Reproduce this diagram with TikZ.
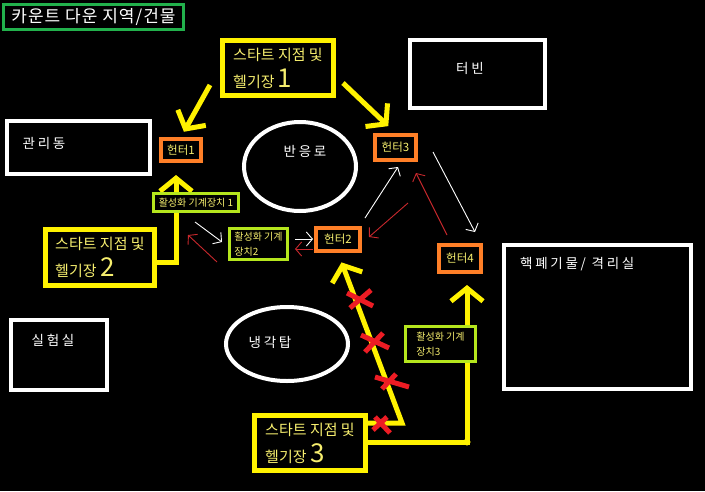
\documentclass[tikz,border=0pt]{standalone}
\usepackage{fontspec}
\setmainfont{Noto Sans CJK KR}
\newfontfamily\krlabel[LetterSpace=20]{Noto Sans CJK KR}
\newfontfamily\krtitle[LetterSpace=6]{Noto Sans CJK KR}
\usetikzlibrary{arrows.meta,shapes.geometric}
\definecolor{pyellow}{HTML}{FFF200}
\definecolor{pytext}{HTML}{F6EE6E}
\definecolor{porange}{HTML}{FF7F27}
\definecolor{plime}{HTML}{B5E61D}
\definecolor{pgreen}{HTML}{22B14C}
\definecolor{pred}{HTML}{ED1C24}
\definecolor{tred}{HTML}{C8282D}
\newcommand\bigdigit[1]{{\fontsize{26}{26}\selectfont #1}}
\pgfdeclarelayer{bg}
\pgfsetlayers{bg,main}
\begin{document}
\begin{tikzpicture}[x=1pt,y=-1pt,
  startbox/.style={draw=pyellow, fill=black, line width=5pt, text=pytext, inner sep=0pt, align=left, font=\fontsize{15}{27}\selectfont},
  hunter/.style={draw=porange, fill=black, line width=4pt, text=pytext, inner sep=0pt, font=\fontsize{11.5}{12}\selectfont},
  devbox/.style={draw=plime, fill=black, line width=3.5pt, text=pytext, inner sep=0pt, align=left, font=\fontsize{10}{15}\selectfont},
  bldg/.style={draw=white, fill=black, line width=4pt, inner sep=0pt},
  bldglabel/.style={text=white, inner sep=0pt, font=\krlabel\fontsize{13.5}{15}\selectfont},
  yarrow/.style={pyellow, line width=5pt, -{Straight Barb[length=13pt,width=32pt]}},
  thinw/.style={white, line width=0.9pt, -{Straight Barb[length=6pt,width=14pt]}},
  thinr/.style={tred, line width=0.9pt, -{Straight Barb[length=6pt,width=14pt]}},
  xmark/.style={pred, line width=5pt}
]
\begin{pgfonlayer}{bg}
\fill[black] (0,0) rectangle (705,491);
\end{pgfonlayer}
\useasboundingbox (0,0) rectangle (705,491);

% title
\node[draw=pgreen, line width=3pt, fill=black, text=white, inner sep=0pt,
      minimum width=180, minimum height=25, font=\krtitle\fontsize{17}{20}\selectfont] (title) at (93.5,17) {카운트 다운 지역/건물};

% buildings
\node[bldg, minimum width=135, minimum height=68] (turbine) at (477.5,74) {};
\node[bldglabel] (turbinelbl) at (470,68) {터빈};
\node[bldg, minimum width=143, minimum height=53] (admin) at (78.5,147.5) {};
\node[bldglabel] (adminlbl) at (44,143) {관리동};
\node[bldg, minimum width=96, minimum height=70] (lab) at (59,355) {};
\node[bldglabel] (lablbl) at (53,340) {실험실};
\node[bldg, minimum width=187, minimum height=144] (waste) at (597.5,317) {};
\node[bldglabel, anchor=west] (wastelbl) at (520,264) {핵폐기물/ 격리실};

% ellipses
\node[draw=white, line width=4pt, ellipse, inner sep=0pt, minimum width=112, minimum height=89] (reactor) at (300,166.5) {};
\node[bldglabel] (reactorlbl) at (305,151) {반응로};
\node[draw=white, line width=4pt, ellipse, inner sep=0pt, minimum width=122, minimum height=74] (cooling) at (287,344) {};
\node[bldglabel] (coolinglbl) at (270,342) {냉각탑};

% start points
\node[startbox, minimum width=111, minimum height=55] (s1) at (278,68) {스타트 지점 및\\헬기장\,\bigdigit{1}};
\node[startbox, minimum width=109, minimum height=56] (s2) at (100,257.5) {스타트 지점 및\\헬기장 \bigdigit{2}};
\node[startbox, minimum width=111, minimum height=55] (s3) at (310,443) {스타트 지점 및\\헬기장 \bigdigit{3}};

% hunters
\node[hunter, minimum width=40, minimum height=22] (h1) at (181,150) {헌터1};
\node[hunter, minimum width=41, minimum height=25] (h3) at (395.5,147.5) {헌터3};
\node[hunter, minimum width=44, minimum height=23] (h2) at (338,239.5) {헌터2};
\node[hunter, minimum width=42, minimum height=27] (h4) at (460,258.5) {헌터4};

% devices
\node[devbox, minimum width=85, minimum height=18] (d1) at (196,202.5) {활성화 기계장치 1};
\node[devbox, minimum width=58, minimum height=31] (d2) at (258.5,244) {활성화 기계\\장치2};
\node[devbox, minimum width=70, minimum height=35] (d3) at (440.5,344) {활성화 기계\\장치3};

% connector points
\coordinate (a1s) at (210,85);
\coordinate (a2s) at (343,83);
\coordinate (a3c) at (176,262);
\coordinate (a4c) at (402,423);
\coordinate (a5c) at (467,442);
\coordinate (w1a) at (195,222);
\coordinate (w1b) at (222,242);
\coordinate (r1a) at (217,262);
\coordinate (r1b) at (188,235);
\coordinate (w2a) at (295,239);
\coordinate (w2b) at (313,239);
\coordinate (r2a) at (313,249);
\coordinate (r2b) at (295,249);
\coordinate (w3a) at (365,218);
\coordinate (w3b) at (398,167);
\coordinate (r3a) at (408,203);
\coordinate (r3b) at (369,237);
\coordinate (r4a) at (447,235);
\coordinate (r4b) at (416,173);
\coordinate (w4a) at (433,152);
\coordinate (w4b) at (475,232);

\begin{pgfonlayer}{bg}
% thick yellow arrows
\draw[yarrow, shorten >=6pt] (a1s) -- (h1.north);
\draw[yarrow, shorten >=10pt] (a2s) -- (h3.north);
\draw[yarrow, shorten >=12pt] (s2.east |- a3c) -- (a3c) -- (a3c |- h1.south);
\draw[yarrow, shorten >=10pt] (s3.east |- a4c) -- (a4c) -- (h2.south);
\draw[yarrow, shorten >=11pt] (s3.east |- a5c) -- (a5c) -- (a5c |- h4.south);
\fill[pyellow] (a5c) circle (3.5);
\end{pgfonlayer}

% red crosses on route 3
\draw[xmark] (347,293) -- (373,306) (350,308) -- (371,290);
\draw[xmark] (361,335) -- (389,348) (365,352) -- (383,333);
\draw[xmark] (375,377) -- (409,387) (382,389) -- (396,374);
\draw[xmark] (375,417) -- (390,433) (373,430) -- (387,417);

% thin arrows
\draw[thinw] (w1a) -- (w1b);
\draw[thinr] (r1a) -- (r1b);
\draw[thinw] (w2a) -- (w2b);
\draw[thinr] (r2a) -- (r2b);
\draw[thinw] (w3a) -- (w3b);
\draw[thinr] (r3a) -- (r3b);
\draw[thinr] (r4a) -- (r4b);
\draw[thinw] (w4a) -- (w4b);
\end{tikzpicture}
\end{document}
